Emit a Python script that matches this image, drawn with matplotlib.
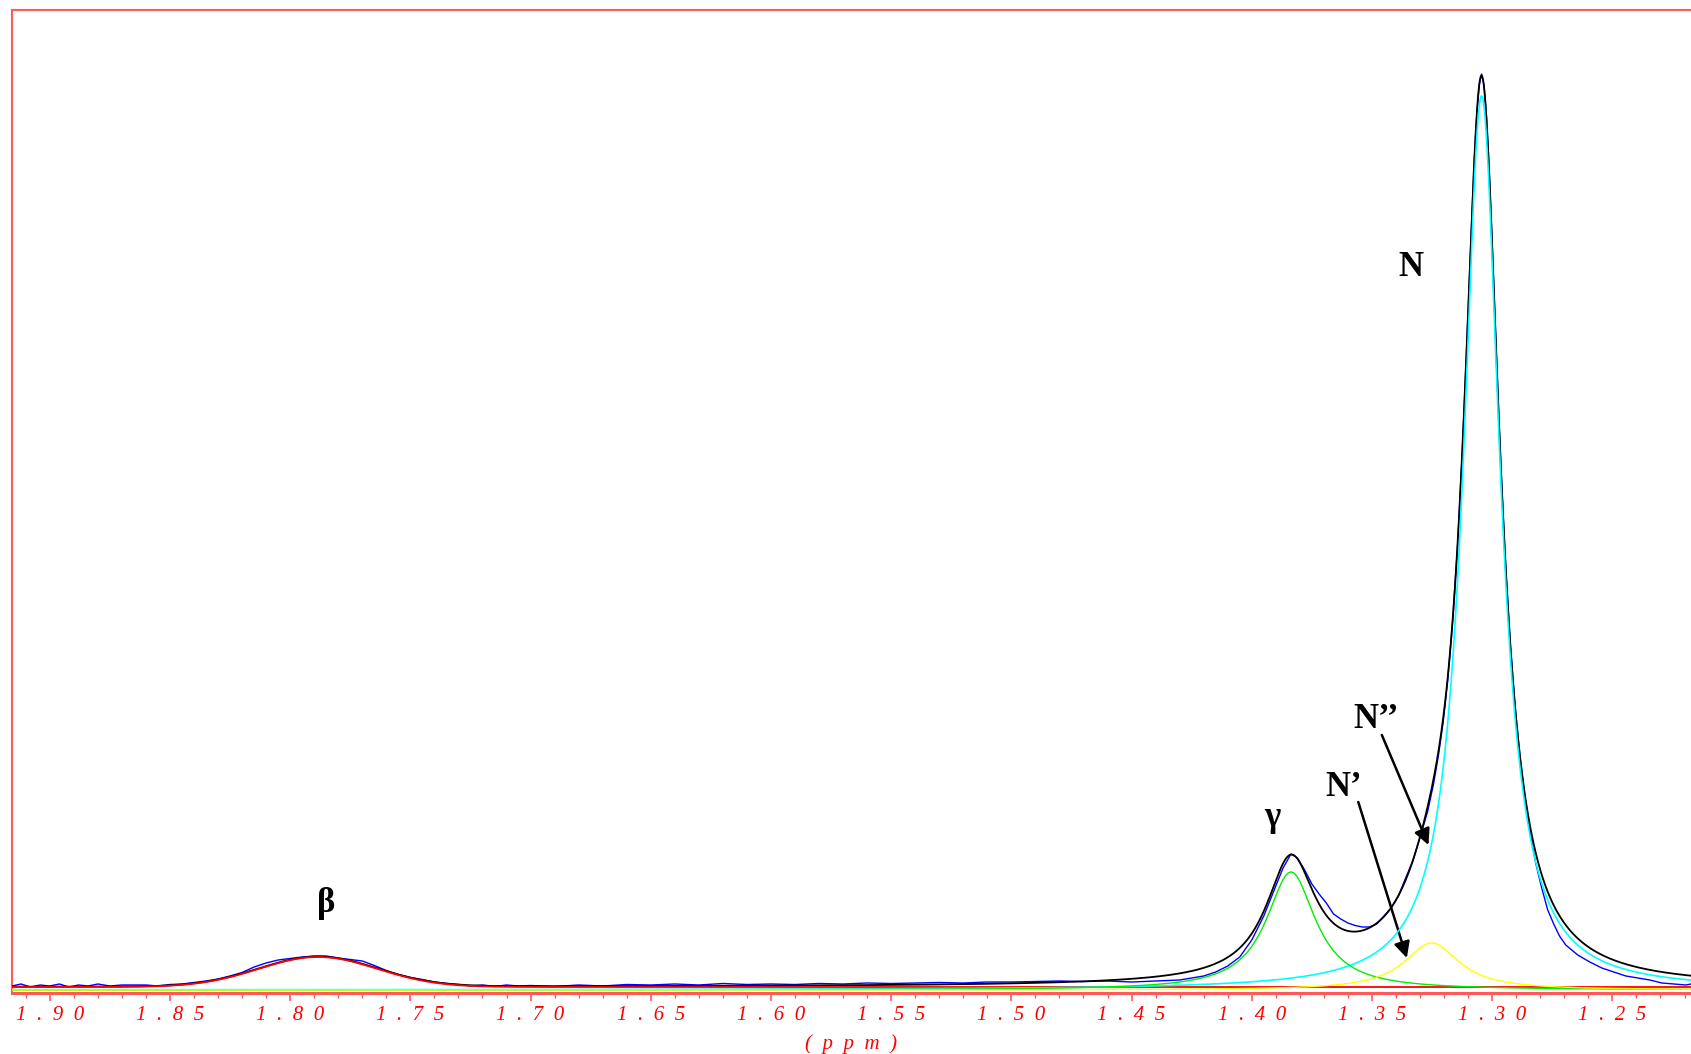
# -*- coding: utf-8 -*-
"""
1H NMR spectrum (1.92 - 1.22 ppm) with peak deconvolution
beta, gamma, N', N'' and N signals
"""
import numpy as np
import matplotlib
matplotlib.use('Agg')
import matplotlib.pyplot as plt
from matplotlib.ticker import MultipleLocator, FuncFormatter

########################################################################
### Data (intensity in arbitrary units)

# fitted components: centre (ppm), height, width (sigma for gauss, HWHM for lorentz)
peak_names   = ['beta', 'gamma', "N'", 'N']
peak_centres = [1.7884, 1.3837, 1.3252, 1.3044]
peak_heights = [30.0, 118.0, 47.0, 894.0]
peak_widths  = [0.0246, 0.0125, 0.0140, 0.0092]
peak_shapes  = ['gauss', 'lorentz', 'lorentz', 'lorentz']
baseline = 3.0

# experimental trace (blue)
exp_ppm = [1.9157, 1.912, 1.908, 1.904, 1.900, 1.896, 1.892, 1.888, 1.884, 1.880,
           1.875, 1.870, 1.865, 1.860, 1.855, 1.850, 1.845, 1.840, 1.835, 1.830,
           1.825, 1.820, 1.815, 1.810, 1.805, 1.800, 1.795, 1.790, 1.785, 1.780,
           1.775, 1.770, 1.765, 1.760, 1.755, 1.750, 1.745, 1.740, 1.735, 1.730,
           1.725, 1.720, 1.715, 1.710, 1.705, 1.700, 1.690, 1.680, 1.670, 1.660,
           1.650, 1.640, 1.630, 1.620, 1.610, 1.600, 1.590, 1.580, 1.570, 1.560,
           1.550, 1.540, 1.530, 1.520, 1.510, 1.500, 1.490, 1.480, 1.470, 1.460,
           1.450, 1.440, 1.430, 1.420, 1.415, 1.410, 1.405, 1.400, 1.395, 1.390,
           1.387, 1.3837, 1.381, 1.378, 1.375, 1.372, 1.369, 1.366, 1.363, 1.360,
           1.357, 1.354, 1.351, 1.348, 1.345, 1.342, 1.339, 1.336, 1.333, 1.330,
           1.3269, 1.3244, 1.3224, 1.3204, 1.3184, 1.3164, 1.3144, 1.3124, 1.3114, 1.3104,
           1.3094, 1.3084, 1.3074, 1.3064, 1.3054, 1.3044, 1.3034, 1.3024, 1.3014, 1.3004,
           1.2994, 1.2984, 1.2974, 1.2964, 1.2944, 1.2924, 1.2904, 1.2884, 1.2864, 1.2844,
           1.2819, 1.2794, 1.2769, 1.2744, 1.2720, 1.2694, 1.2644, 1.2594, 1.2544, 1.2494,
           1.2444, 1.2394, 1.2344, 1.2294, 1.2244, 1.2194, 1.2173]
exp_int = [4, 6, 3, 5, 4, 6, 3, 5, 4, 6,
           4, 5, 5, 5, 4, 5.5, 6, 7.5, 9, 11,
           14, 17.5, 23, 27, 30, 31.5, 33, 34, 34, 32,
           30.5, 29, 24.5, 19.5, 15.5, 12.5, 10.5, 8, 6.5, 5.5,
           4, 5, 3.5, 5, 4, 4.5, 3.5, 5, 4, 5.5,
           5, 6, 5, 6.5, 5.5, 6, 5.5, 6.5, 6, 7,
           6.5, 7, 7.5, 7, 8, 8, 8.5, 9, 8.5, 9,
           8, 9, 10, 14, 18, 24, 33, 50, 74, 104,
           122, 136, 132, 120, 106, 96, 87, 76, 71, 67,
           64.5, 63, 63, 66, 74, 82, 94, 112, 129, 153,
           178, 206, 234, 268, 312, 370, 444, 540, 596, 655,
           717, 777, 832, 876, 905, 916, 905, 874, 828, 771,
           708, 645, 583, 525, 424, 344, 281, 232, 193, 160,
           127, 102, 80, 66, 54, 45, 35, 28, 22, 18,
           14, 12, 10, 7, 6, 5, 6]

x_left, x_right = 1.9157, 1.2173

########################################################################
### Line shapes
def lorentz(x, c, h, w):
    return h / (1 + ((x - c) / w) ** 2)

def gauss(x, c, h, s):
    return h * np.exp(-0.5 * ((x - c) / s) ** 2)

ppm = np.linspace(x_left, x_right, 5000)
comps = []
for c, h, w, s in zip(peak_centres, peak_heights, peak_widths, peak_shapes):
    f = gauss if s == 'gauss' else lorentz
    comps.append(f(ppm, c, h, w))
fit = baseline + np.sum(comps, axis=0)

########################################################################
### Plot
fig = plt.figure(figsize=(16.91, 10.54), dpi=100)
ax = fig.add_axes([12/1691, 1 - 993/1054, 1 - 12/1691, (993 - 10)/1054])

ax.plot(exp_ppm, exp_int, color='#0000ff', lw=1.0, zorder=3)
ax.plot(ppm, fit, color='black', lw=1.3, zorder=4)
ax.plot(ppm, baseline + comps[0], color='#ff0000', lw=1.3, zorder=5)   # beta
ax.plot(ppm, comps[3], color='#00ffff', lw=1.2, zorder=5)              # N
ax.plot(ppm, comps[1], color='#00ee00', lw=1.0, zorder=5)              # gamma
ax.plot(ppm, comps[2], color='#ffff00', lw=1.0, zorder=5)              # N'

ax.set_xlim(x_left, x_right)
ax.set_ylim(-3, 980)
ax.set_yticks([])

red = '#ff5a5a'
for side in ['left', 'top']:
    ax.spines[side].set_color(red)
    ax.spines[side].set_linewidth(1.5)
ax.spines['bottom'].set_color(red)
ax.spines['bottom'].set_linewidth(2.2)
ax.spines['right'].set_visible(False)

ax.xaxis.set_major_locator(MultipleLocator(0.05))
ax.xaxis.set_minor_locator(MultipleLocator(0.01))
ax.xaxis.set_major_formatter(FuncFormatter(
    lambda v, pos: '  '.join('{:.2f}'.format(v))))
ax.tick_params(axis='x', which='major', direction='out', length=6, width=1.2,
               color=red, pad=3, labelcolor='#ff0000', labelsize=15)
ax.tick_params(axis='x', which='minor', direction='out', length=3.5, width=1.0, color=red)
for lab in ax.get_xticklabels():
    lab.set_fontfamily('Liberation Serif')
    lab.set_fontstyle('italic')

ax.set_xlabel('(  p  p  m  )', color='#ff0000', fontsize=15, family='Liberation Serif',
              style='italic', labelpad=7)

### Peak labels and arrows
lab_font = dict(family='Liberation Serif', fontweight='bold', fontsize=25,
                ha='center', va='center', color='black')
ax.text(1.7851, 87, '\u03b2', **lab_font)
ax.text(1.3915, 172, '\u03b3', **lab_font)
ax.text(1.3616, 203, 'N\u2019', **lab_font)
ax.text(1.3483, 271, 'N\u2019\u2019', **lab_font)
ax.text(1.3339, 723, 'N', **lab_font)

arrow = dict(arrowstyle='-|>', color='black', lw=1.8, mutation_scale=24, shrinkA=0, shrinkB=0)
ax.annotate('', xy=(1.3265, 145), xytext=(1.3459, 255), arrowprops=arrow)
ax.annotate('', xy=(1.3355, 32), xytext=(1.3557, 188), arrowprops=arrow)

fig.savefig('out.png', dpi=100)
